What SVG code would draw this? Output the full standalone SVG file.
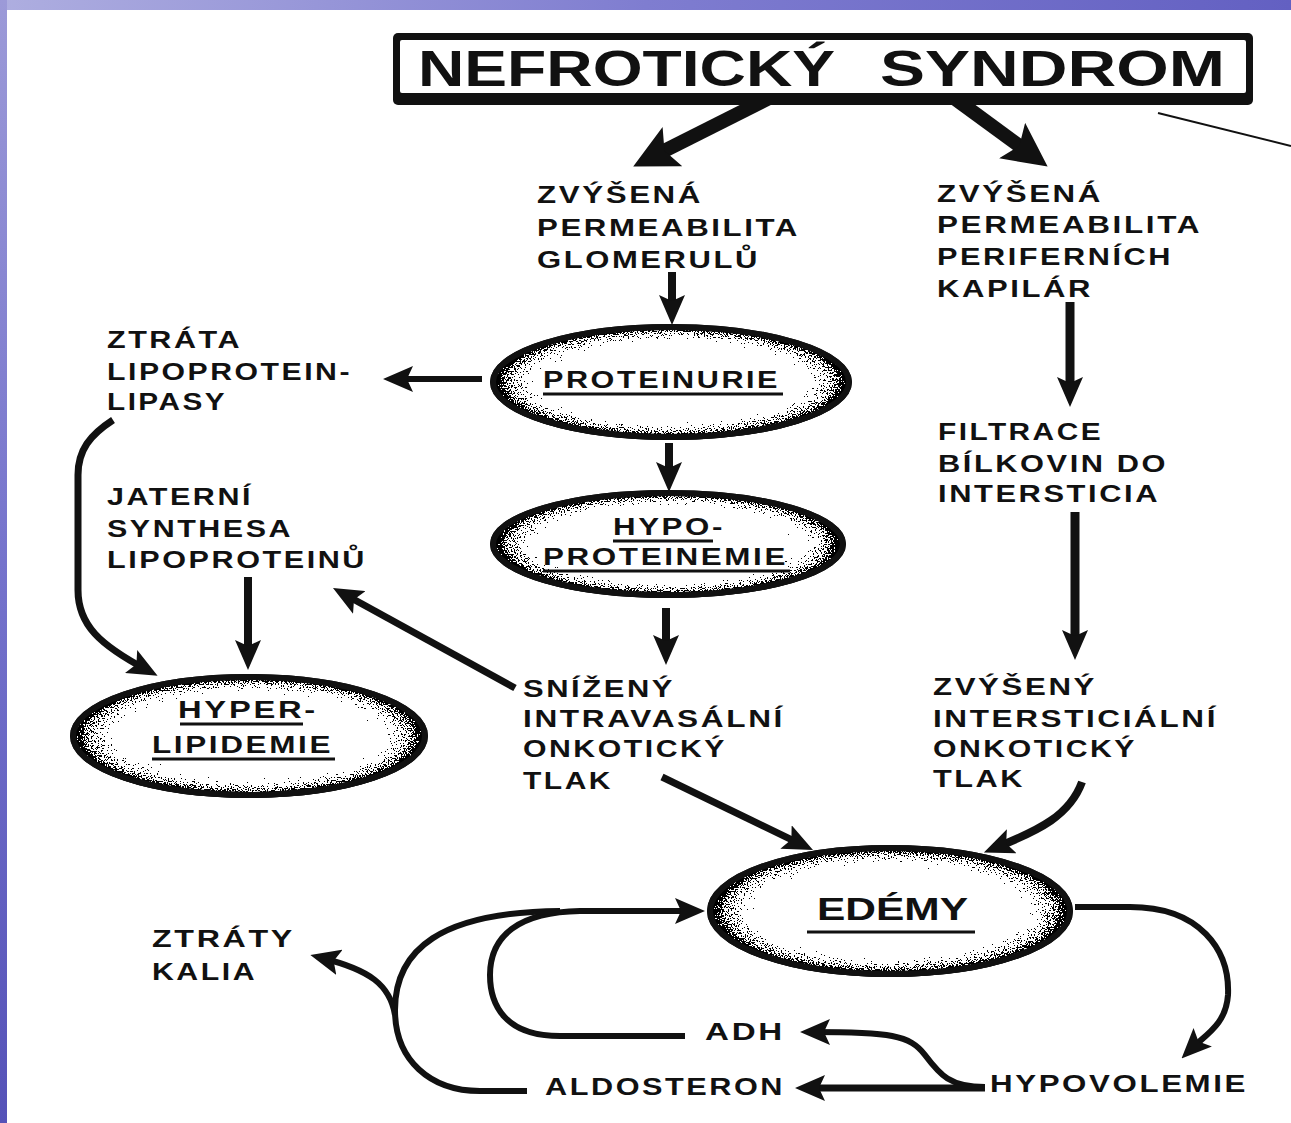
<svg xmlns="http://www.w3.org/2000/svg" width="1291" height="1123" viewBox="0 0 1291 1123">
<defs>
<style>
.t{font-family:"Liberation Sans",Arial,sans-serif;font-weight:bold;font-size:24px;letter-spacing:2px;fill:#111}
.ti{font-family:"Liberation Sans",Arial,sans-serif;font-weight:bold;font-size:50px;fill:#111}
.ed{font-family:"Liberation Sans",Arial,sans-serif;font-weight:bold;font-size:32px;fill:#111}
.c{fill:none;stroke:#111;stroke-linecap:butt;stroke-linejoin:round}
.ul{stroke:#111;stroke-width:3}
.shadow{fill:#111}
.base{fill:#fff;stroke:#111;stroke-width:6}
.stip{fill:url(#shade);filter:url(#stip)}
.rim{fill:none;stroke:#111;stroke-width:6}
</style>
<linearGradient id="topband" x1="0" y1="0" x2="1" y2="0">
<stop offset="0" stop-color="#aeaee0"/>
<stop offset="0.5" stop-color="#7f7dd0"/>
<stop offset="1" stop-color="#6360c2"/>
</linearGradient>
<linearGradient id="leftband" x1="0" y1="0" x2="0" y2="1">
<stop offset="0" stop-color="#9c9ad8"/>
<stop offset="0.5" stop-color="#7573cc"/>
<stop offset="1" stop-color="#5552b8"/>
</linearGradient>
<radialGradient id="shade" cx="0.5" cy="0.5" r="0.5">
<stop offset="0" stop-color="#000" stop-opacity="0"/>
<stop offset="0.6" stop-color="#000" stop-opacity="0"/>
<stop offset="0.8" stop-color="#000" stop-opacity="0.28"/>
<stop offset="0.93" stop-color="#000" stop-opacity="0.5"/>
<stop offset="1" stop-color="#000" stop-opacity="0.8"/>
</radialGradient>
<filter id="stip" x="0" y="0" width="1" height="1" color-interpolation-filters="sRGB">
<feTurbulence type="fractalNoise" baseFrequency="0.7" numOctaves="2" seed="7" result="n"/>
<feColorMatrix in="n" type="matrix" values="0 0 0 0 0  0 0 0 0 0  0 0 0 0 0  1 0 0 0 0" result="na"/>
<feComposite in="SourceGraphic" in2="na" operator="arithmetic" k1="0" k2="1" k3="-1" k4="0.5" result="d"/>
<feComponentTransfer in="d">
<feFuncR type="linear" slope="0" intercept="0"/>
<feFuncG type="linear" slope="0" intercept="0"/>
<feFuncB type="linear" slope="0" intercept="0"/>
<feFuncA type="discrete" tableValues="0 1"/>
</feComponentTransfer>
</filter>
<marker id="a" viewBox="0 0 30 26" markerWidth="30" markerHeight="26" refX="18" refY="13" orient="auto" markerUnits="userSpaceOnUse">
<path d="M0,0 L30,13 L0,26 L6,13 Z" fill="#111"/>
</marker>
<marker id="A" viewBox="0 0 44 44" markerWidth="44" markerHeight="44" refX="28" refY="22" orient="auto" markerUnits="userSpaceOnUse">
<path d="M0,0 L44,22 L0,44 L9,22 Z" fill="#111"/>
</marker>
</defs>

<rect x="0" y="0" width="1291" height="1123" fill="#fff"/>
<rect x="0" y="0" width="1291" height="10" fill="url(#topband)"/>
<rect x="0" y="0" width="7" height="1123" fill="url(#leftband)"/>

<g id="connectors">
<line class="c" x1="775" y1="95" x2="647.5" y2="159.3" stroke-width="14" marker-end="url(#A)"/>
<line class="c" x1="950" y1="95" x2="1034.7" y2="157.1" stroke-width="14" marker-end="url(#A)"/>
<line class="c" x1="672" y1="272" x2="672" y2="313" stroke-width="8" marker-end="url(#a)"/>
<line class="c" x1="669" y1="443" x2="669" y2="480" stroke-width="8" marker-end="url(#a)"/>
<line class="c" x1="666" y1="608" x2="666" y2="653" stroke-width="8" marker-end="url(#a)"/>
<line class="c" x1="482" y1="379" x2="395" y2="379" stroke-width="6" marker-end="url(#a)"/>
<path class="c" d="M113,420 C90,435 78,450 78,475 L78,590 C78,625 100,645 147,670" stroke-width="7" marker-end="url(#a)"/>
<line class="c" x1="248" y1="577" x2="248" y2="658" stroke-width="8" marker-end="url(#a)"/>
<line class="c" x1="515" y1="688" x2="343.5" y2="593.8" stroke-width="7" marker-end="url(#a)"/>
<line class="c" x1="662" y1="777" x2="802.2" y2="844.8" stroke-width="7" marker-end="url(#a)"/>
<line class="c" x1="1070" y1="302" x2="1070" y2="395" stroke-width="9" marker-end="url(#a)"/>
<line class="c" x1="1075" y1="512" x2="1075" y2="648" stroke-width="9" marker-end="url(#a)"/>
<path class="c" d="M1082,782 C1070,815 1040,830 995,848" stroke-width="8" marker-end="url(#a)"/>
<path class="c" d="M685,1036 L560,1036 C505,1036 490,1005 490,975 C490,935 520,912 580,911 L693,911" stroke-width="6" marker-end="url(#a)"/>
<path class="c" d="M527,1091 L480,1091 C430,1091 395,1060 395,1010 C395,950 440,912 560,911" stroke-width="6"/>
<path class="c" d="M395,1015 C390,985 370,970 322,958" stroke-width="6" marker-end="url(#a)"/>
<path class="c" d="M1075,907 L1130,907 C1200,907 1230,950 1228,995 C1226,1025 1205,1035 1190,1050" stroke-width="6" marker-end="url(#a)"/>
<path class="c" d="M985,1087 C950,1087 940,1075 925,1055 C910,1035 890,1032 812,1032" stroke-width="6" marker-end="url(#a)"/>
<line class="c" x1="985" y1="1088" x2="807" y2="1088" stroke-width="7" marker-end="url(#a)"/>
<line class="c" x1="1158" y1="113" x2="1291" y2="146" stroke-width="2"/>
</g>

<g id="n-title">
<rect x="393" y="33" width="860" height="72" rx="5" fill="#111"/>
<rect x="400" y="40" width="846" height="53" rx="2" fill="#fff"/>
<text class="ti" y="86"><tspan x="418" textLength="417" lengthAdjust="spacingAndGlyphs">NEFROTICKÝ</tspan> <tspan x="880" textLength="345" lengthAdjust="spacingAndGlyphs">SYNDROM</tspan></text>
</g>

<g id="n-perm-glom">
<text class="t" x="537" y="203" textLength="166" lengthAdjust="spacingAndGlyphs">ZVÝŠENÁ</text>
<text class="t" x="537" y="236" textLength="263" lengthAdjust="spacingAndGlyphs">PERMEABILITA</text>
<text class="t" x="537" y="268" textLength="223" lengthAdjust="spacingAndGlyphs">GLOMERULŮ</text>
</g>

<g id="n-perm-kap">
<text class="t" x="937" y="202" textLength="166" lengthAdjust="spacingAndGlyphs">ZVÝŠENÁ</text>
<text class="t" x="937" y="233" textLength="265" lengthAdjust="spacingAndGlyphs">PERMEABILITA</text>
<text class="t" x="937" y="265" textLength="236" lengthAdjust="spacingAndGlyphs">PERIFERNÍCH</text>
<text class="t" x="937" y="297" textLength="156" lengthAdjust="spacingAndGlyphs">KAPILÁR</text>
</g>

<g id="n-filtrace">
<text class="t" x="938" y="440" textLength="165" lengthAdjust="spacingAndGlyphs">FILTRACE</text>
<text class="t" x="938" y="472" textLength="230" lengthAdjust="spacingAndGlyphs">BÍLKOVIN DO</text>
<text class="t" x="938" y="502" textLength="222" lengthAdjust="spacingAndGlyphs">INTERSTICIA</text>
</g>

<g id="n-zvyseny">
<text class="t" x="933" y="695" textLength="164" lengthAdjust="spacingAndGlyphs">ZVÝŠENÝ</text>
<text class="t" x="933" y="727" textLength="285" lengthAdjust="spacingAndGlyphs">INTERSTICIÁLNÍ</text>
<text class="t" x="933" y="757" textLength="204" lengthAdjust="spacingAndGlyphs">ONKOTICKÝ</text>
<text class="t" x="933" y="787" textLength="92" lengthAdjust="spacingAndGlyphs">TLAK</text>
</g>

<g id="n-snizeny">
<text class="t" x="523" y="697" textLength="152" lengthAdjust="spacingAndGlyphs">SNÍŽENÝ</text>
<text class="t" x="523" y="727" textLength="262" lengthAdjust="spacingAndGlyphs">INTRAVASÁLNÍ</text>
<text class="t" x="523" y="757" textLength="204" lengthAdjust="spacingAndGlyphs">ONKOTICKÝ</text>
<text class="t" x="523" y="789" textLength="90" lengthAdjust="spacingAndGlyphs">TLAK</text>
</g>

<g id="n-ztrata-lpl">
<text class="t" x="107" y="348" textLength="135" lengthAdjust="spacingAndGlyphs">ZTRÁTA</text>
<text class="t" x="107" y="380" textLength="245" lengthAdjust="spacingAndGlyphs">LIPOPROTEIN-</text>
<text class="t" x="107" y="410" textLength="120" lengthAdjust="spacingAndGlyphs">LIPASY</text>
</g>

<g id="n-jaterni">
<text class="t" x="107" y="505" textLength="146" lengthAdjust="spacingAndGlyphs">JATERNÍ</text>
<text class="t" x="107" y="537" textLength="186" lengthAdjust="spacingAndGlyphs">SYNTHESA</text>
<text class="t" x="107" y="568" textLength="260" lengthAdjust="spacingAndGlyphs">LIPOPROTEINŮ</text>
</g>

<g id="n-proteinurie">
<ellipse class="shadow" cx="671" cy="385" rx="178" ry="55"/>
<ellipse class="base" cx="671" cy="382" rx="178" ry="55"/>
<ellipse class="stip" cx="671" cy="382" rx="178" ry="55"/>
<ellipse class="rim" cx="671" cy="382" rx="178" ry="55"/>
<text class="t" x="543" y="388" textLength="237" lengthAdjust="spacingAndGlyphs">PROTEINURIE</text>
<line class="ul" x1="543" y1="394" x2="783" y2="394"/>
</g>

<g id="n-hypoproteinemie">
<ellipse class="shadow" cx="668" cy="547" rx="175" ry="51"/>
<ellipse class="base" cx="668" cy="544" rx="175" ry="51"/>
<ellipse class="stip" cx="668" cy="544" rx="175" ry="51"/>
<ellipse class="rim" cx="668" cy="544" rx="175" ry="51"/>
<text class="t" x="613" y="535" textLength="112" lengthAdjust="spacingAndGlyphs">HYPO-</text>
<line class="ul" x1="613" y1="541" x2="713" y2="541"/>
<text class="t" x="543" y="565" textLength="245" lengthAdjust="spacingAndGlyphs">PROTEINEMIE</text>
<line class="ul" x1="543" y1="571" x2="790" y2="571"/>
</g>

<g id="n-hyperlipidemie">
<ellipse class="shadow" cx="249" cy="739" rx="176" ry="59"/>
<ellipse class="base" cx="249" cy="736" rx="176" ry="59"/>
<ellipse class="stip" cx="249" cy="736" rx="176" ry="59"/>
<ellipse class="rim" cx="249" cy="736" rx="176" ry="59"/>
<text class="t" x="178" y="718" textLength="140" lengthAdjust="spacingAndGlyphs">HYPER-</text>
<line class="ul" x1="180" y1="724" x2="303" y2="724"/>
<text class="t" x="152" y="753" textLength="181" lengthAdjust="spacingAndGlyphs">LIPIDEMIE</text>
<line class="ul" x1="152" y1="759" x2="335" y2="759"/>
</g>

<g id="n-edemy">
<ellipse class="shadow" cx="890" cy="914" rx="180" ry="63"/>
<ellipse class="base" cx="890" cy="911" rx="180" ry="63"/>
<ellipse class="stip" cx="890" cy="911" rx="180" ry="63"/>
<ellipse class="rim" cx="890" cy="911" rx="180" ry="63"/>
<text class="ed" x="817" y="920" textLength="151" lengthAdjust="spacingAndGlyphs">EDÉMY</text>
<line class="ul" x1="807" y1="932" x2="975" y2="932" stroke-width="4"/>
</g>

<g id="n-ztraty-kalia">
<text class="t" x="152" y="947" textLength="143" lengthAdjust="spacingAndGlyphs">ZTRÁTY</text>
<text class="t" x="152" y="980" textLength="105" lengthAdjust="spacingAndGlyphs">KALIA</text>
</g>

<g id="n-adh">
<text class="t" x="705" y="1040" textLength="80" lengthAdjust="spacingAndGlyphs">ADH</text>
</g>

<g id="n-aldosteron">
<text class="t" x="545" y="1095" textLength="240" lengthAdjust="spacingAndGlyphs">ALDOSTERON</text>
</g>

<g id="n-hypovolemie">
<text class="t" x="990" y="1092" textLength="258" lengthAdjust="spacingAndGlyphs">HYPOVOLEMIE</text>
</g>
</svg>
